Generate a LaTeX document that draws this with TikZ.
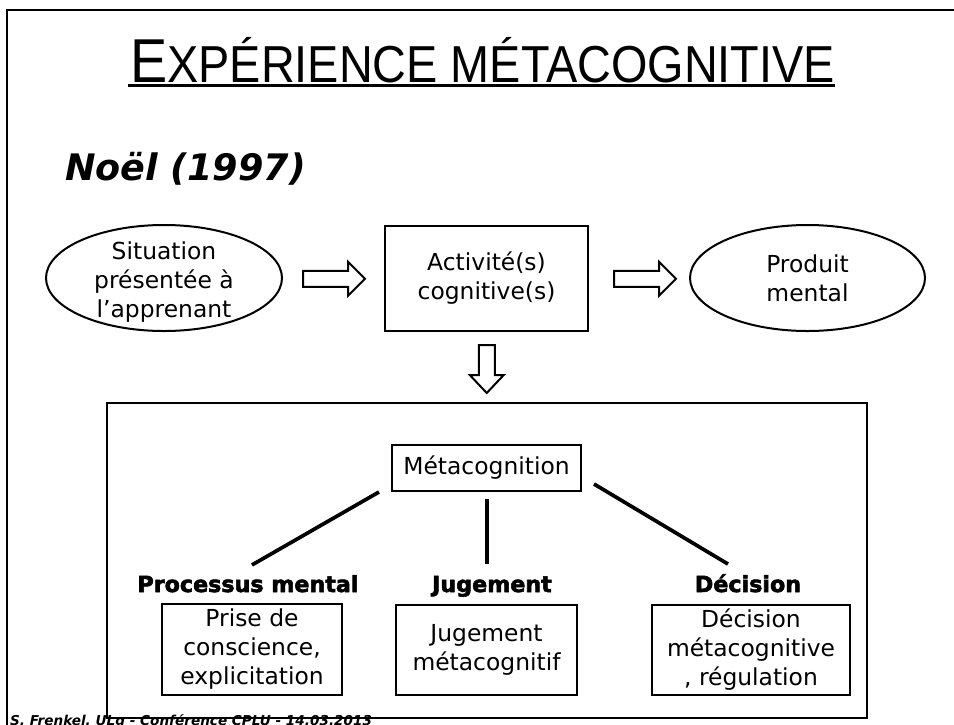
\documentclass[tikz,border=0pt]{standalone}
\usepackage{fontspec}
\setmainfont{DejaVu Sans}
\newfontfamily\titlefont[FakeStretch=0.9]{Liberation Sans}
\newfontfamily\heavyfont[FakeBold=2.5]{DejaVu Sans Bold}
\usetikzlibrary{shapes.geometric,calc}
\tikzset{
  harrow/.pic={\draw[hollow] (-31,-8) -- (14,-8) -- (14,-17) -- (31,0) -- (14,17) -- (14,8) -- (-31,8) -- cycle;},
  varrow/.pic={\draw[hollow] (-8,-24) -- (8,-24) -- (8,6) -- (17,6) -- (0,24) -- (-17,6) -- (-8,6) -- cycle;}
}
\begin{document}
\begin{tikzpicture}[x=1pt,y=-1pt,
  every node/.style={inner sep=0pt},
  body/.style={font=\fontsize{23.4}{29}\selectfont, align=center},
  boxed/.style={draw, line width=2pt, body},
  oval/.style={draw, ellipse, line width=2pt, minimum width=236pt, minimum height=106pt},
  cat/.style={font=\heavyfont\fontsize{22.2}{26}\selectfont, anchor=base},
  tie/.style={line width=3.7pt},
  hollow/.style={draw, line width=2pt, fill=white, line join=miter}]
\useasboundingbox (0,0) rectangle (954,724);
\clip (0,0) rectangle (954,724);
\fill[white] (0,0) rectangle (954,724);
% slide frame
\draw[line width=2pt] (7,10) rectangle (1000,780);
% title
\node[anchor=base west] (title) at (130,82) {\titlefont\fontsize{62}{62}\selectfont E\fontsize{52}{52}\selectfont XPÉRIENCE MÉTACOGNITIVE};
\draw[line width=3.5pt] ($(title.base west)+(-2,3.5)$) -- ($(title.base east)+(0,3.5)$);
\node[anchor=base west, font=\bfseries\itshape\fontsize{36.5}{40}\selectfont] (noel) at (65,180) {Noël (1997)};
% top row
\node[oval] (sit) at (164,278) {};
\node[body] (sittext) at (164,282) {Situation\\présentée à\\l’apprenant};
\node[boxed, minimum width=203pt, minimum height=105pt] (act) at (486.5,278.5) {Activité(s)\\cognitive(s)};
\node[oval, minimum width=235pt] (prod) at (807.5,278) {};
\node[body] (prodtext) at (prod.center) {Produit\\mental};
\pic at ($(sit.east)!0.5!(act.west)+(0.5,0.5)$) {harrow};
\pic at ($(act.east)!0.5!(prod.west)+(6,0.5)$) {harrow};
% footer (under the panel border)
\node[anchor=base west, font=\bfseries\itshape\fontsize{13.6}{16}\selectfont] (foot) at (10,725) {S. Frenkel, ULg - Conférence CPLU - 14.03.2013};
% panel
\node[draw, line width=2pt, minimum width=760pt, minimum height=315pt] (panel) at (487,560.5) {};
\pic at ($(act.south)!0.5!(panel.north)+(0,2)$) {varrow};
\node[boxed, minimum width=189pt, minimum height=46pt] (meta) at (486.5,468) {Métacognition};
\node[cat] (proc) at (248,592) {Processus mental};
\node[cat] (jug) at (492,592) {Jugement};
\node[cat] (dec) at (748,592) {Décision};
\node[boxed, minimum width=180pt, minimum height=91pt] (b1) at (252,649.5) {Prise de\\conscience,\\explicitation};
\node[boxed, minimum width=181pt, minimum height=90pt] (b2) at (486.5,650) {Jugement\\métacognitif};
\node[boxed, minimum width=198pt, minimum height=90pt] (b3) at (751,650) {Décision\\métacognitive\\, régulation};
\draw[tie] ($(meta.south west)+(-12,0)$) -- ($(proc.north)+(4,-10)$);
\draw[tie] ($(meta.south)+(0.5,7)$) -- ($(meta.south |- jug.north)+(0.5,-12)$);
\draw[tie] ($(meta.south east)+(12,-8)$) -- ($(dec.north)+(-20,-10)$);
\end{tikzpicture}
\end{document}
